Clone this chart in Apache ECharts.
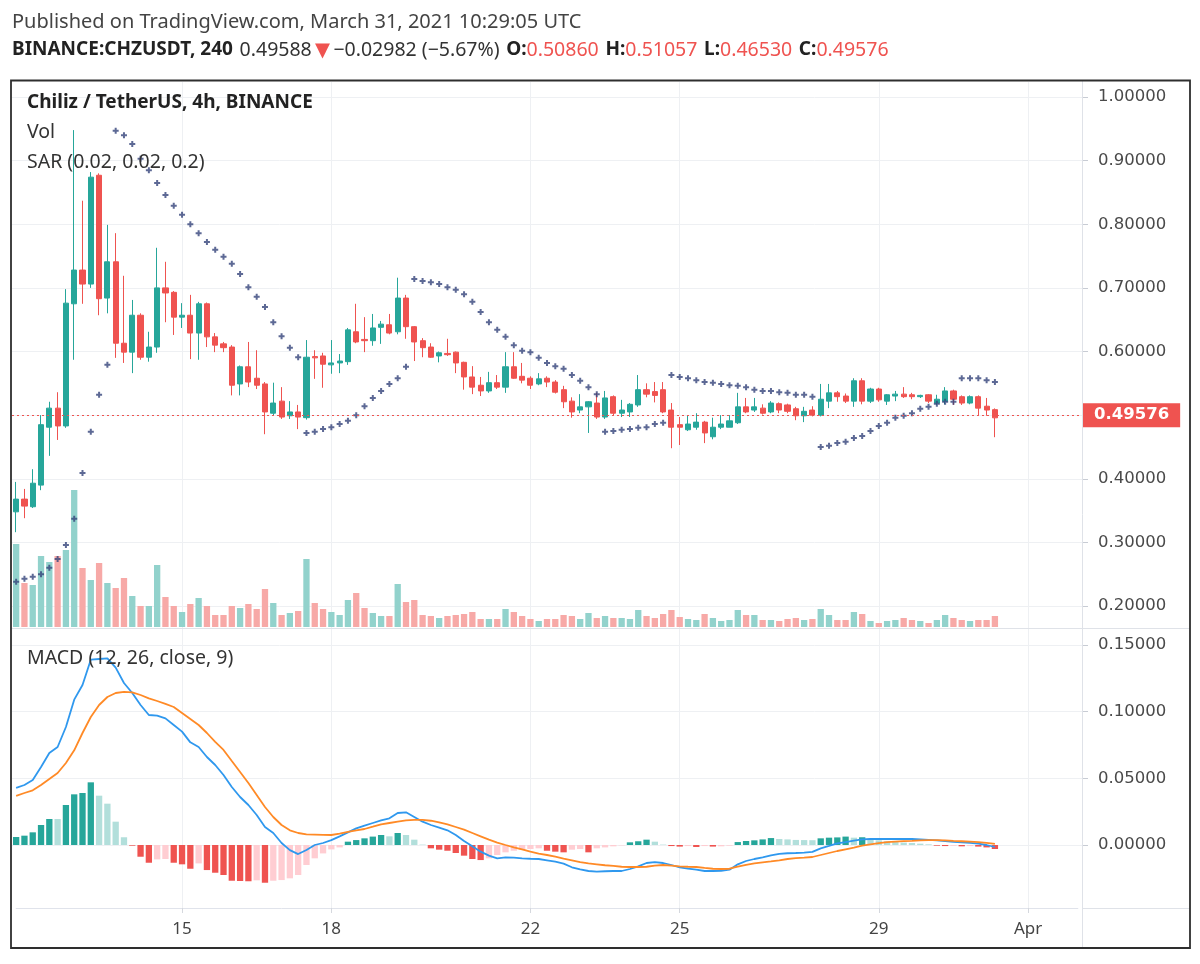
<!DOCTYPE html>
<html><head><meta charset="utf-8">
<script src="https://cdn.jsdelivr.net/npm/echarts@6/dist/echarts.min.js"></script>
<style>html,body{margin:0;padding:0;background:#fff}#c{width:1200px;height:964px}</style>
</head><body><div id="c"></div>
<script>
// ---------- DATA ----------
const slotCount = 129;                 // 119 candles + empty space to the right
const firstCandleUTC = [2021, 2, 11, 16]; // Mar 11 2021 16:00 UTC, 4h candles
const tickDates  = ['03-15 00:00','03-18 00:00','03-22 00:00','03-25 00:00','03-29 00:00','04-01 00:00'];
const tickLabels = ['15','18','22','25','29','Apr'];

const open = [
.348,.368,.356,.390,.481,.511,.483,.675,.728,.706,
.877,.684,.741,.613,.599,.657,.591,.607,.700,.693,
.654,.657,.629,.675,.623,.612,.607,.549,.576,.558,
.549,.503,.522,.499,.505,.496,.592,.593,.579,.582,
.584,.631,.619,.617,.638,.642,.631,.684,.639,.617,
.607,.593,.597,.599,.583,.560,.547,.538,.551,.544,
.576,.561,.558,.549,.558,.552,.540,.522,.508,.513,
.519,.497,.529,.503,.505,.516,.540,.537,.540,.508,
.485,.477,.481,.489,.466,.481,.481,.488,.513,.508,
.511,.505,.518,.516,.510,.499,.508,.500,.522,.535,
.530,.522,.554,.522,.541,.522,.530,.533,.532,.529,
.532,.519,.522,.538,.529,.519,.529,.514,.5086];
const close = [
.368,.357,.393,.485,.511,.483,.676,.728,.706,.874,
.683,.741,.613,.599,.657,.591,.607,.700,.692,.654,
.657,.629,.675,.623,.610,.606,.547,.576,.552,.547,
.505,.519,.497,.505,.497,.591,.590,.580,.582,.585,
.634,.615,.617,.637,.643,.629,.684,.639,.615,.606,
.591,.598,.595,.582,.560,.544,.538,.551,.544,.576,
.558,.555,.547,.557,.552,.536,.521,.505,.513,.521,
.497,.527,.503,.508,.517,.540,.533,.531,.505,.481,
.481,.486,.489,.472,.481,.486,.491,.513,.505,.513,
.503,.519,.508,.506,.499,.506,.500,.525,.535,.529,
.522,.554,.522,.541,.524,.532,.533,.529,.529,.531,
.522,.525,.538,.525,.519,.529,.511,.508,.49576];
const low = [
.316,.338,.354,.382,.436,.461,.480,.587,.675,.700,
.657,.660,.590,.582,.566,.587,.584,.598,.646,.626,
.637,.588,.587,.607,.599,.599,.531,.531,.544,.541,
.470,.500,.494,.494,.478,.493,.557,.543,.565,.566,
.579,.613,.599,.609,.612,.627,.627,.620,.585,.591,
.590,.583,.593,.566,.540,.533,.530,.535,.541,.535,
.557,.550,.541,.547,.544,.534,.511,.496,.503,.472,
.494,.494,.499,.497,.497,.513,.528,.520,.503,.448,
.453,.475,.477,.456,.462,.478,.481,.486,.503,.505,
.501,.503,.503,.503,.492,.489,.498,.498,.511,.521,
.519,.513,.517,.519,.521,.516,.522,.527,.525,.527,
.519,.516,.517,.516,.516,.517,.500,.499,.4653];
const high = [
.395,.384,.415,.500,.521,.536,.698,.948,.837,.882,
.880,.799,.786,.719,.681,.660,.631,.763,.741,.695,
.676,.689,.678,.677,.629,.615,.610,.578,.615,.602,
.552,.551,.544,.522,.516,.618,.602,.598,.618,.596,
.637,.675,.654,.659,.648,.659,.716,.689,.640,.621,
.613,.600,.620,.600,.584,.577,.560,.568,.563,.599,
.599,.582,.561,.566,.561,.555,.546,.528,.533,.522,
.535,.538,.531,.524,.519,.563,.550,.552,.552,.519,
.497,.500,.503,.491,.496,.500,.500,.535,.527,.527,
.517,.522,.520,.518,.513,.513,.514,.549,.549,.538,
.534,.558,.558,.543,.543,.533,.538,.544,.535,.532,
.533,.532,.544,.540,.531,.531,.531,.527,.51057];
// volume (relative units)
const volume = [
83,44,42,71,65,71,77,137,59,47,
64,44,39,49,31,21,21,62,30,21,
15,23,29,21,12,12,21,19,23,18,
38,24,12,14,16,68,24,18,15,12,
27,34,19,14,11,11,43,25,27,12,
11,9,11,12,13,15,8,8,8,18,
15,11,8,6,8,8,12,11,8,14,
9,11,9,9,8,17,11,9,13,17,
10,8,7,13,9,6,7,17,12,12,
7,7,6,8,9,7,8,18,12,7,
7,15,13,6,4,6,7,9,7,6,
4,7,12,9,7,6,7,7,11];
// Parabolic SAR (0.02, 0.02, 0.2)
const sar = [
.238,.243,.246,.250,.260,.274,.296,.337,.409,.474,.532,.579,
.947,.940,.926,.903,.885,.865,.846,.829,.815,.800,.786,.772,.760,.749,.738,.722,.701,.686,.670,.646,.624,.606,.591,
.472,.474,.478,.481,.486,.491,.500,.514,.527,.538,.549,.558,.576,
.714,.711,.709,.706,.701,.697,.690,.678,.662,.646,.634,.623,.610,.601,.599,.590,.582,.577,.573,.563,.554,.544,.533,
.474,.475,.477,.478,.480,.481,.486,.488,
.563,.560,.558,.555,.552,.551,.549,.547,.546,.544,.540,.538,.538,.536,.535,.532,.532,.529,
.450,.452,.456,.458,.464,.467,.475,.483,.488,.496,.499,.503,.510,.513,.518,.521,.521,
.558,.558,.558,.555,.552];
// MACD (12, 26, close, 9)
const macd = [
0.0428,0.045,0.0488,0.0585,0.069,0.0735,0.0885,0.109,0.12,0.139,
0.1395,0.14,0.133,0.1215,0.114,0.105,0.0975,0.097,0.095,0.09,
0.085,0.077,0.0735,0.066,0.06,0.0525,0.0435,0.036,0.03,0.0225,
0.0135,0.009,0.0015,-0.0038,-0.0068,-0.0037,0,0.0015,0.0037,0.0065,
0.0095,0.0125,0.0145,0.0165,0.0185,0.02,0.024,0.0245,0.021,0.0175,
0.015,0.013,0.011,0.0075,0.003,-0.001,-0.005,-0.008,-0.01,-0.0093,
-0.0095,-0.01,-0.0103,-0.0105,-0.0115,-0.0125,-0.014,-0.0167,-0.0183,-0.0195,
-0.02,-0.0197,-0.0195,-0.0195,-0.018,-0.016,-0.0135,-0.0128,-0.0135,-0.015,
-0.0167,-0.0177,-0.0185,-0.0195,-0.0195,-0.0193,-0.0185,-0.0145,-0.012,-0.0105,
-0.0093,-0.0078,-0.0066,-0.0062,-0.006,-0.0057,-0.0052,-0.0025,-0.0007,0.0012,
0.0022,0.0033,0.0042,0.0045,0.0045,0.0045,0.0045,0.0045,0.0045,0.0042,
0.0039,0.0035,0.0029,0.0024,0.0019,0.0016,0.001,0,-0.0015];
const signal = [
0.0368,0.039,0.041,0.045,0.0495,0.054,0.0615,0.071,0.084,0.096,
0.105,0.111,0.114,0.1148,0.1145,0.1125,0.11,0.108,0.1058,0.1035,
0.099,0.0945,0.09,0.084,0.0773,0.0713,0.063,0.0548,0.0465,0.0375,
0.0285,0.021,0.015,0.011,0.009,0.008,0.0078,0.0076,0.0075,0.0085,
0.0098,0.011,0.012,0.0137,0.0155,0.0165,0.0175,0.0185,0.0188,0.0188,
0.0182,0.017,0.0155,0.0135,0.0115,0.009,0.0065,0.004,0.0018,0,
-0.0017,-0.0033,-0.005,-0.0065,-0.0075,-0.0087,-0.0103,-0.0115,-0.0128,-0.0138,
-0.0145,-0.0152,-0.0157,-0.0163,-0.0165,-0.0165,-0.0163,-0.0155,-0.015,-0.0155,
-0.016,-0.0163,-0.0165,-0.0172,-0.0178,-0.018,-0.0178,-0.0163,-0.0149,-0.0138,
-0.013,-0.0123,-0.0115,-0.0105,-0.0099,-0.0095,-0.009,-0.0075,-0.006,-0.0045,
-0.0032,-0.002,-0.0005,0.0005,0.0014,0.0022,0.0026,0.0029,0.0031,0.0034,
0.0036,0.0037,0.0035,0.0031,0.0028,0.0025,0.0022,0.0016,0.0008];
const hist = [
0.006,0.007,0.0095,0.015,0.0195,0.0195,0.03,0.038,0.039,0.047,
0.037,0.031,0.0175,0.0058,-0.0005,-0.0088,-0.0133,-0.0108,-0.0105,-0.0133,
-0.0145,-0.0178,-0.0138,-0.0188,-0.0208,-0.0225,-0.0268,-0.027,-0.0272,-0.0265,
-0.0283,-0.0268,-0.0263,-0.025,-0.0225,-0.015,-0.01,-0.0063,-0.0033,-0.0018,
0.0025,0.0037,0.005,0.0063,0.0075,0.0065,0.009,0.0075,0.004,0.0003,
-0.0025,-0.0035,-0.0043,-0.006,-0.008,-0.0105,-0.0113,-0.01,-0.0075,-0.0055,
-0.0043,-0.0035,-0.003,-0.0025,-0.0043,-0.005,-0.0055,-0.0035,-0.003,-0.0055,
-0.0025,-0.0018,-0.001,-0.0003,0.002,0.0028,0.004,0.0025,0.0003,-0.0008,
-0.0012,-0.0008,-0.0015,-0.0008,-0.0012,-0.001,-0.0005,0.0022,0.003,0.0035,
0.0042,0.0052,0.0045,0.0042,0.0038,0.0037,0.0036,0.005,0.0055,0.0057,
0.0063,0.0055,0.0058,0.0045,0.0035,0.0028,0.0022,0.0018,0.0015,0.001,
0.0005,-0.0005,-0.0008,-0.0006,-0.001,-0.0008,-0.0012,-0.0018,-0.003];
const lastClose = 0.49576;
const headerQuote = ['0.49588', '\u22120.02982 (\u22125.67%)', '0.50860', '0.51057', '0.46530', '0.49576'];

// ---------- BUILD ----------
const pad = n => String(n).padStart(2, '0');
const cats = [];
const t0 = Date.UTC(...firstCandleUTC);
for (let i = 0; i < slotCount; i++) {
  const d = new Date(t0 + i * 4 * 3600e3);
  cats.push(pad(d.getUTCMonth() + 1) + '-' + pad(d.getUTCDate()) + ' ' + pad(d.getUTCHours()) + ':00');
}
const UP = '#26a69a', DOWN = '#ef5350';
const candleData = open.map((o, i) => [o, close[i], low[i], high[i]]);
const volData = volume.map((v, i) => ({ value: v, itemStyle: { color: close[i] >= open[i] ? '#92d2cc' : '#f7a9a7' } }));
const histData = hist.map((h, i) => {
  const prev = i > 0 ? hist[i - 1] : -Infinity;
  let c;
  if (h >= 0) c = (h > prev) ? '#26a69a' : '#b2dfdb';
  else c = (h > prev) ? '#ffcdd2' : '#ef5350';
  return { value: h, itemStyle: { color: c } };
});
const tickSet = new Set(tickDates);
const FONT = '"Noto Sans", "DejaVu Sans", sans-serif';
const NUMFONT = '"DejaVu Sans", sans-serif';

const L = 12, R = 118;
const bandW = (1200 - L - R) / slotCount;
const hiddenX = (gi) => ({ type: 'category', data: cats, gridIndex: gi, show: false, boundaryGap: true });
const priceLabel = { fontFamily: NUMFONT, fontSize: 16.5, color: '#4a4a4a', margin: 16, formatter: v => v.toFixed(5) };

const chart = echarts.init(document.getElementById('c'), null, { renderer: 'canvas' });
chart.setOption({
  animation: false,
  backgroundColor: '#ffffff',
  grid: [
    { left: L, right: R, top: 97, height: 509 },
    { left: L, right: R, top: 427, height: 200 },
    { left: L, right: R, top: 645, height: 200 },
    { left: L + bandW / 2, right: R + bandW / 2, top: 82, bottom: 56 }
  ],
  xAxis: [
    hiddenX(0), hiddenX(1), hiddenX(2),
    { type: 'category', data: cats, gridIndex: 3, boundaryGap: false,
      axisLine: { show: true, lineStyle: { color: '#e0e3eb' } },
      axisTick: { show: true, length: 5, interval: (i, v) => tickSet.has(v), lineStyle: { color: '#d5d8de' } },
      axisLabel: { interval: (i, v) => tickSet.has(v), formatter: v => tickLabels[tickDates.indexOf(v)],
        fontFamily: FONT, fontSize: 17, color: '#444', margin: 13 },
      splitLine: { show: true, interval: (i, v) => tickSet.has(v), lineStyle: { color: '#eef0f3', width: 1 } } }
  ],
  yAxis: [
    { type: 'value', gridIndex: 0, position: 'right', min: 0.2, max: 1.0, interval: 0.1,
      axisLine: { show: false }, axisTick: { show: true, length: 6, lineStyle: { color: '#c8ccd4' } },
      axisLabel: priceLabel, splitLine: { lineStyle: { color: '#eef0f3' } } },
    { type: 'value', gridIndex: 1, min: 0, max: 200, show: false },
    { type: 'value', gridIndex: 2, position: 'right', min: 0, max: 0.15, interval: 0.05,
      axisLine: { show: false }, axisTick: { show: true, length: 6, lineStyle: { color: '#c8ccd4' } },
      axisLabel: priceLabel, splitLine: { lineStyle: { color: '#eef0f3' } } },
    { type: 'value', gridIndex: 3, show: false }
  ],
  series: [
    { type: 'bar', name: 'Vol', xAxisIndex: 1, yAxisIndex: 1, data: volData, barWidth: '76%', z: 1, silent: true },
    { type: 'candlestick', name: 'CHZUSDT', xAxisIndex: 0, yAxisIndex: 0, data: candleData, barWidth: '68%', z: 3,
      itemStyle: { color: UP, color0: DOWN, borderColor: UP, borderColor0: DOWN, borderWidth: 1 },
      markLine: { silent: true, symbol: ['none', 'none'], animation: false,
        data: [{ yAxis: lastClose }],
        lineStyle: { color: '#ef5350', type: [2, 3], width: 1 },
        label: { show: true, position: 'end', distance: 1, formatter: () => lastClose.toFixed(5),
          color: '#fff', backgroundColor: '#ef5350', padding: [4, 11, 3, 11], fontSize: 16.5, fontWeight: 'bold', fontFamily: NUMFONT } } },
    { type: 'scatter', name: 'SAR', xAxisIndex: 0, yAxisIndex: 0, data: sar, z: 4, silent: true,
      symbol: 'path://M2,0H4V2H6V4H4V6H2V4H0V2H2Z', symbolSize: 6, itemStyle: { color: '#34437a' } },
    { type: 'bar', name: 'Histogram', xAxisIndex: 2, yAxisIndex: 2, data: histData, barWidth: '76%', clip: false, z: 2, silent: true },
    { type: 'line', name: 'MACD', xAxisIndex: 2, yAxisIndex: 2, data: macd, showSymbol: false, clip: false, z: 3,
      lineStyle: { color: '#2f98ee', width: 1.8 }, silent: true },
    { type: 'line', name: 'Signal', xAxisIndex: 2, yAxisIndex: 2, data: signal, showSymbol: false, clip: false, z: 3,
      lineStyle: { color: '#ff8a26', width: 1.8 }, silent: true }
  ],
  graphic: [
    { type: 'rect', silent: true, z: 100, shape: { x: 11, y: 80.5, width: 1179, height: 867.5 },
      style: { fill: 'none', stroke: '#2e2e2e', lineWidth: 1.8 } },
    { type: 'line', silent: true, z: 90, shape: { x1: 11, y1: 628.5, x2: 1190, y2: 628.5 }, style: { stroke: '#dfe2e8', lineWidth: 1 } },
    { type: 'line', silent: true, z: 90, shape: { x1: 1082.5, y1: 81, x2: 1082.5, y2: 948 }, style: { stroke: '#dfe2e8', lineWidth: 1 } },
    { type: 'line', silent: true, z: 90, shape: { x1: 1082, y1: 908.5, x2: 1190, y2: 908.5 }, style: { stroke: '#dfe2e8', lineWidth: 1 } },
    { type: 'text', silent: true, z: 100, x: 12, y: 22,
      style: { text: 'Published on TradingView.com, March 31, 2021 10:29:05 UTC', font: '20px ' + FONT, fill: '#444', verticalAlign: 'middle' } },
    { type: 'text', silent: true, z: 100, x: 12, y: 50,
      style: { verticalAlign: 'middle',
        text: '{b|BINANCE:CHZUSDT, 240}  {n|' + headerQuote[0] + '} {r|\u25BC} {n|' + headerQuote[1] + '}  {b|O:}{r|' + headerQuote[2] + '}  {b|H:}{r|' + headerQuote[3] + '}  {b|L:}{r|' + headerQuote[4] + '}  {b|C:}{r|' + headerQuote[5] + '}',
        rich: {
          b: { fontFamily: FONT, fontSize: 19, fontWeight: 'bold', fill: '#222' },
          n: { fontFamily: FONT, fontSize: 19.5, fill: '#333' },
          r: { fontFamily: FONT, fontSize: 19.5, fill: '#ef5350' }
        } } },
    { type: 'text', silent: true, z: 100, x: 27, y: 103,
      style: { text: 'Chiliz / TetherUS, 4h, BINANCE', font: 'bold 19px ' + FONT, fill: '#222', verticalAlign: 'middle' } },
    { type: 'text', silent: true, z: 100, x: 27, y: 132,
      style: { text: 'Vol', font: '19.5px ' + FONT, fill: '#333', verticalAlign: 'middle' } },
    { type: 'text', silent: true, z: 100, x: 27, y: 162,
      style: { text: 'SAR (0.02, 0.02, 0.2)', font: '19.5px ' + FONT, fill: '#333', verticalAlign: 'middle' } },
    { type: 'text', silent: true, z: 100, x: 27, y: 658,
      style: { text: 'MACD (12, 26, close, 9)', font: '19.5px ' + FONT, fill: '#333', verticalAlign: 'middle' } }
  ]
});
</script>
</body></html>
